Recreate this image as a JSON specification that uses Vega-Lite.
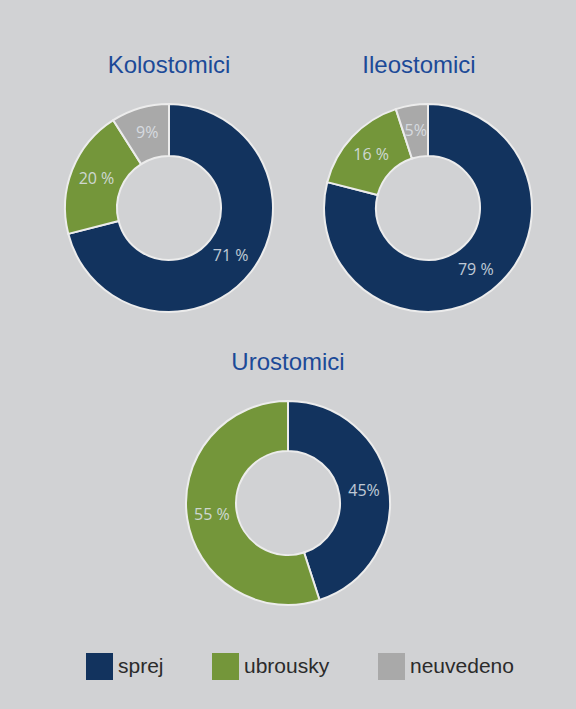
{
  "$schema": "https://vega.github.io/schema/vega-lite/v6.json",
  "background": "#d1d2d4",
  "padding": {"left": 61, "top": 54, "right": 70, "bottom": 40},
  "datasets": {
    "shares": [
      {"chart": "Kolostomici", "category": "sprej", "ord": 1, "value": 71, "label": "71 %"},
      {"chart": "Kolostomici", "category": "ubrousky", "ord": 2, "value": 20, "label": "20 %"},
      {"chart": "Kolostomici", "category": "neuvedeno", "ord": 3, "value": 9, "label": "9%"},
      {"chart": "Ileostomici", "category": "sprej", "ord": 1, "value": 79, "label": "79 %"},
      {"chart": "Ileostomici", "category": "ubrousky", "ord": 2, "value": 16, "label": "16 %"},
      {"chart": "Ileostomici", "category": "neuvedeno", "ord": 3, "value": 5, "label": "5%"},
      {"chart": "Urostomici", "category": "sprej", "ord": 1, "value": 45, "label": "45%"},
      {"chart": "Urostomici", "category": "ubrousky", "ord": 2, "value": 55, "label": "55 %"}
    ]
  },
  "data": {"name": "shares"},
  "spacing": 35,
  "vconcat": [
    {
      "spacing": 43,
      "hconcat": [
        {
          "title": {"text": "Kolostomici"},
          "width": 208,
          "height": 208,
          "transform": [{"filter": "datum.chart === 'Kolostomici'"}],
          "layer": [
            {
              "mark": {"type": "arc", "outerRadius": 104, "innerRadius": 52, "stroke": "#ececec", "strokeWidth": 2},
              "encoding": {
                "theta": {"field": "value", "type": "quantitative", "stack": true},
                "order": {"field": "ord", "type": "quantitative"},
                "color": {"field": "category", "type": "nominal", "scale": {"domain": ["sprej", "ubrousky", "neuvedeno"], "range": ["#12335e", "#74963a", "#a9a9a9"]}}
              }
            },
            {
              "mark": {"type": "text", "radius": 78, "font": "Open Sans", "fontSize": 16, "fill": "#dfe3ea", "opacity": 0.85},
              "encoding": {
                "theta": {"field": "value", "type": "quantitative", "stack": true},
                "order": {"field": "ord", "type": "quantitative"},
                "text": {"field": "label", "type": "nominal"}
              }
            }
          ]
        },
        {
          "title": {"text": "Ileostomici", "dx": -9},
          "width": 208,
          "height": 208,
          "transform": [{"filter": "datum.chart === 'Ileostomici'"}],
          "layer": [
            {
              "mark": {"type": "arc", "outerRadius": 104, "innerRadius": 52, "stroke": "#ececec", "strokeWidth": 2},
              "encoding": {
                "theta": {"field": "value", "type": "quantitative", "stack": true},
                "order": {"field": "ord", "type": "quantitative"},
                "color": {"field": "category", "type": "nominal", "scale": {"domain": ["sprej", "ubrousky", "neuvedeno"], "range": ["#12335e", "#74963a", "#a9a9a9"]}}
              }
            },
            {
              "mark": {"type": "text", "radius": 78, "font": "Open Sans", "fontSize": 16, "fill": "#dfe3ea", "opacity": 0.85},
              "encoding": {
                "theta": {"field": "value", "type": "quantitative", "stack": true},
                "order": {"field": "ord", "type": "quantitative"},
                "text": {"field": "label", "type": "nominal"}
              }
            }
          ]
        }
      ]
    },
    {
      "title": {"text": "Urostomici"},
      "width": 446,
      "height": 204,
      "transform": [{"filter": "datum.chart === 'Urostomici'"}],
      "layer": [
        {
          "mark": {"type": "arc", "outerRadius": 102, "innerRadius": 52, "stroke": "#ececec", "strokeWidth": 2},
          "encoding": {
            "theta": {"field": "value", "type": "quantitative", "stack": true},
            "order": {"field": "ord", "type": "quantitative"},
            "color": {"field": "category", "type": "nominal", "scale": {"domain": ["sprej", "ubrousky", "neuvedeno"], "range": ["#12335e", "#74963a", "#a9a9a9"]}}
          }
        },
        {
          "mark": {"type": "text", "radius": 77, "font": "Open Sans", "fontSize": 16, "fill": "#dfe3ea", "opacity": 0.85},
          "encoding": {
            "theta": {"field": "value", "type": "quantitative", "stack": true},
            "order": {"field": "ord", "type": "quantitative"},
            "text": {"field": "label", "type": "nominal"}
          }
        }
      ]
    }
  ],
  "resolve": {"scale": {"color": "shared"}},
  "config": {
    "view": {"stroke": null},
    "title": {"font": "Liberation Sans", "fontSize": 24, "fontWeight": "normal", "color": "#1c4a98", "offset": 22, "baseline": "alphabetic", "anchor": "middle"},
    "legend": {
      "orient": "bottom",
      "direction": "horizontal",
      "title": null,
      "symbolType": "square",
      "symbolSize": 729,
      "symbolStrokeWidth": 0,
      "symbolOpacity": 1,
      "labelFont": "Liberation Sans",
      "labelFontSize": 21,
      "labelColor": "#2b2b2b",
      "labelOffset": 5,
      "columnPadding": 48,
      "padding": 21,
      "offset": 23
    }
  }
}
